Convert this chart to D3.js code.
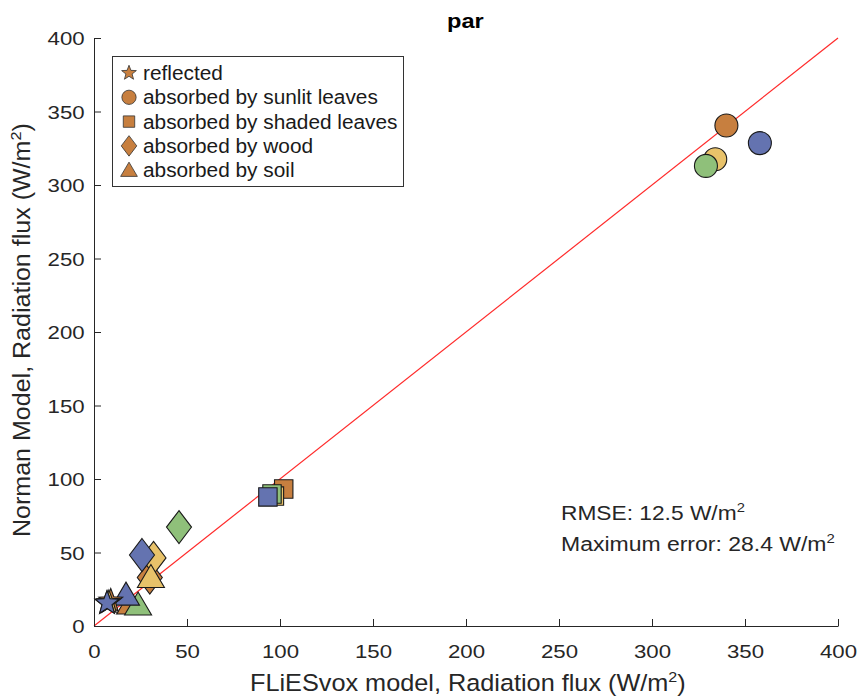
<!DOCTYPE html>
<html><head><meta charset="utf-8">
<script src="https://cdn.jsdelivr.net/npm/d3@7"></script>
<style>body{margin:0;background:#fff;} text{font-family:"Liberation Sans",Arial,Helvetica,sans-serif;}</style>
</head><body>
<svg id="c" width="864" height="696"></svg>
<script>
// Data
const groups = ["site A","site B","site C","site D"];
const categories = ["reflected","absorbed by sunlit leaves","absorbed by shaded leaves","absorbed by wood","absorbed by soil"];
const reflectedX = [9, 8, 7, 7];
const reflectedY = [17, 16, 15.5, 15.6];
const sunlitX = [340, 334, 329, 358];
const sunlitY = [340.5, 317.5, 313, 328.5];
const shadedX = [102, 97, 95.7, 93.5];
const shadedY = [93.2, 88.4, 89.8, 87.8];
const woodX = [30, 32, 45.7, 25.8];
const woodY = [33, 46.3, 67.3, 48.3];
const soilX = [19.5, 30.6, 23.7, 17.2];
const soilY = [15, 33, 14.3, 21];
const ticks = [0,50,100,150,200,250,300,350,400];
const title = "par";
const rmse = 12.5, maxErr = 28.4;

const colors = ["#c77f3f","#e8c26a","#8fc07a","#6473b0"];
const seriesX = [reflectedX, sunlitX, shadedX, woodX, soilX];
const seriesY = [reflectedY, sunlitY, shadedY, woodY, soilY];

const svg = d3.select("#c");
const x = d3.scaleLinear().domain([0,400]).range([94,838]);
const y = d3.scaleLinear().domain([0,400]).range([626,38]);
const axisColor = "#262626";

// fit helper: stretch a text horizontally (along its direction) to a target width
function fit(t, target){
  const w = t.node().getBBox().width;
  if(w>0) t.attr("transform", `scale(${target/w},1)`);
}

// shapes
function starPath(R){ const r=R*0.42; let p=[]; for(let i=0;i<10;i++){const a=-Math.PI/2+i*Math.PI/5; const rr=i%2?r:R; p.push([rr*Math.cos(a), rr*Math.sin(a)]);} return "M"+p.map(d=>d.join(",")).join("L")+"Z"; }
function shapePath(k, s){
  if(k===0) return starPath(12.5*s);
  if(k===1){ const r=11.5*s; return `M${-r},0A${r},${r} 0 1,0 ${r},0A${r},${r} 0 1,0 ${-r},0Z`; }
  if(k===2){ const h=9.2*s; return `M${-h},${-h}L${h},${-h}L${h},${h}L${-h},${h}Z`; }
  if(k===3){ const w=12.5*s, hh=16.5*s; return `M0,${-hh}L${w},0L0,${hh}L${-w},0Z`; }
  const w=13.5*s, t=13*s, b=10*s; return `M0,${-t}L${w},${b}L${-w},${b}Z`;
}

// 1:1 line
svg.append("line").attr("x1",x(0)).attr("y1",y(0)).attr("x2",x(400)).attr("y2",y(400))
  .attr("stroke","#ff2a2a").attr("stroke-width",1.2);

// markers
const drawOrder = [1,2,3,4,0];
drawOrder.forEach(k=>{
  const pts = groups.map((g,i)=>({x:seriesX[k][i], y:seriesY[k][i], c:colors[i]}));
  svg.append("g").selectAll("path").data(pts).join("path")
    .attr("d", shapePath(k,1))
    .attr("transform", d=>`translate(${x(d.x)},${y(d.y)})`)
    .attr("fill", d=>d.c).attr("stroke","#1a1a1a").attr("stroke-width",1.1);
});

// axes
const gx = svg.append("g").attr("transform",`translate(0,${y(0)})`)
  .call(d3.axisBottom(x).tickValues(ticks).tickSizeInner(-7).tickSizeOuter(0));
const gy = svg.append("g").attr("transform",`translate(${x(0)},0)`)
  .call(d3.axisLeft(y).tickValues(ticks).tickSizeInner(-7).tickSizeOuter(0));
[gx,gy].forEach(g=>{
  g.select(".domain").attr("stroke",axisColor).attr("stroke-width",1);
  g.selectAll(".tick line").attr("stroke",axisColor);
  g.selectAll(".tick text").attr("fill",axisColor).style("font-size","19px").style("font-family","Liberation Sans, Arial, sans-serif");
});
gx.selectAll(".tick text").attr("y",32).attr("dy",0).attr("transform","scale(1.17,1)");
gy.selectAll(".tick text").attr("x",-8).attr("dy","0.35em").attr("transform","scale(1.17,1)");

// title
{
  const g = svg.append("g").attr("transform","translate(447,28)");
  const t = g.append("text").style("font-size","20px").style("font-weight","bold").attr("fill","#000").text(title);
  fit(t, 37);
}

// axis labels
{
  const g = svg.append("g").attr("transform","translate(250,691)");
  const t = g.append("text").style("font-size","23.5px").attr("fill",axisColor);
  t.append("tspan").text("FLiESvox model, Radiation flux (W/m");
  t.append("tspan").attr("dy",-9).style("font-size","15px").text("2");
  t.append("tspan").attr("dy",9).text(")");
  fit(t, 436);
}
{
  const g = svg.append("g").attr("transform","translate(30,537) rotate(-90)");
  const t = g.append("text").style("font-size","23px").attr("fill",axisColor);
  t.append("tspan").text("Norman Model, Radiation flux (W/m");
  t.append("tspan").attr("dy",-9).style("font-size","15px").text("2");
  t.append("tspan").attr("dy",9).text(")");
  fit(t, 414);
}

// annotations
function ann(yy, label, width){
  const g = svg.append("g").attr("transform",`translate(561,${yy})`);
  const t = g.append("text").style("font-size","20px").attr("fill",axisColor);
  t.append("tspan").text(label);
  t.append("tspan").attr("dy",-8).style("font-size","13px").text("2");
  fit(t, width);
}
ann(520, `RMSE: ${rmse} W/m`, 184);
ann(551, `Maximum error: ${maxErr} W/m`, 274);

// legend
const lg = svg.append("g");
lg.append("rect").attr("x",112.5).attr("y",56.5).attr("width",291).attr("height",130)
  .attr("fill","#fff").attr("stroke","#333").attr("stroke-width",1);
const legendScale = [];
categories.forEach((c,i)=>{
  const cy = 73 + i*24.3;
  lg.append("path").attr("d", shapePath(i, 0.62)).attr("transform",`translate(129,${cy})`)
    .attr("fill",colors[0]).attr("stroke","#333").attr("stroke-width",0.8);
  const g = lg.append("g").attr("transform",`translate(143,${cy+7})`);
  g.append("text").style("font-size","19.5px").attr("fill","#1a1a1a").text(c);
});
// uniform stretch so the widest entry matches
{
  const texts = lg.selectAll("text");
  const w = texts.nodes()[2].getBBox().width;
  texts.attr("transform", `scale(${255/w},1)`);
}
</script>
</body></html>
